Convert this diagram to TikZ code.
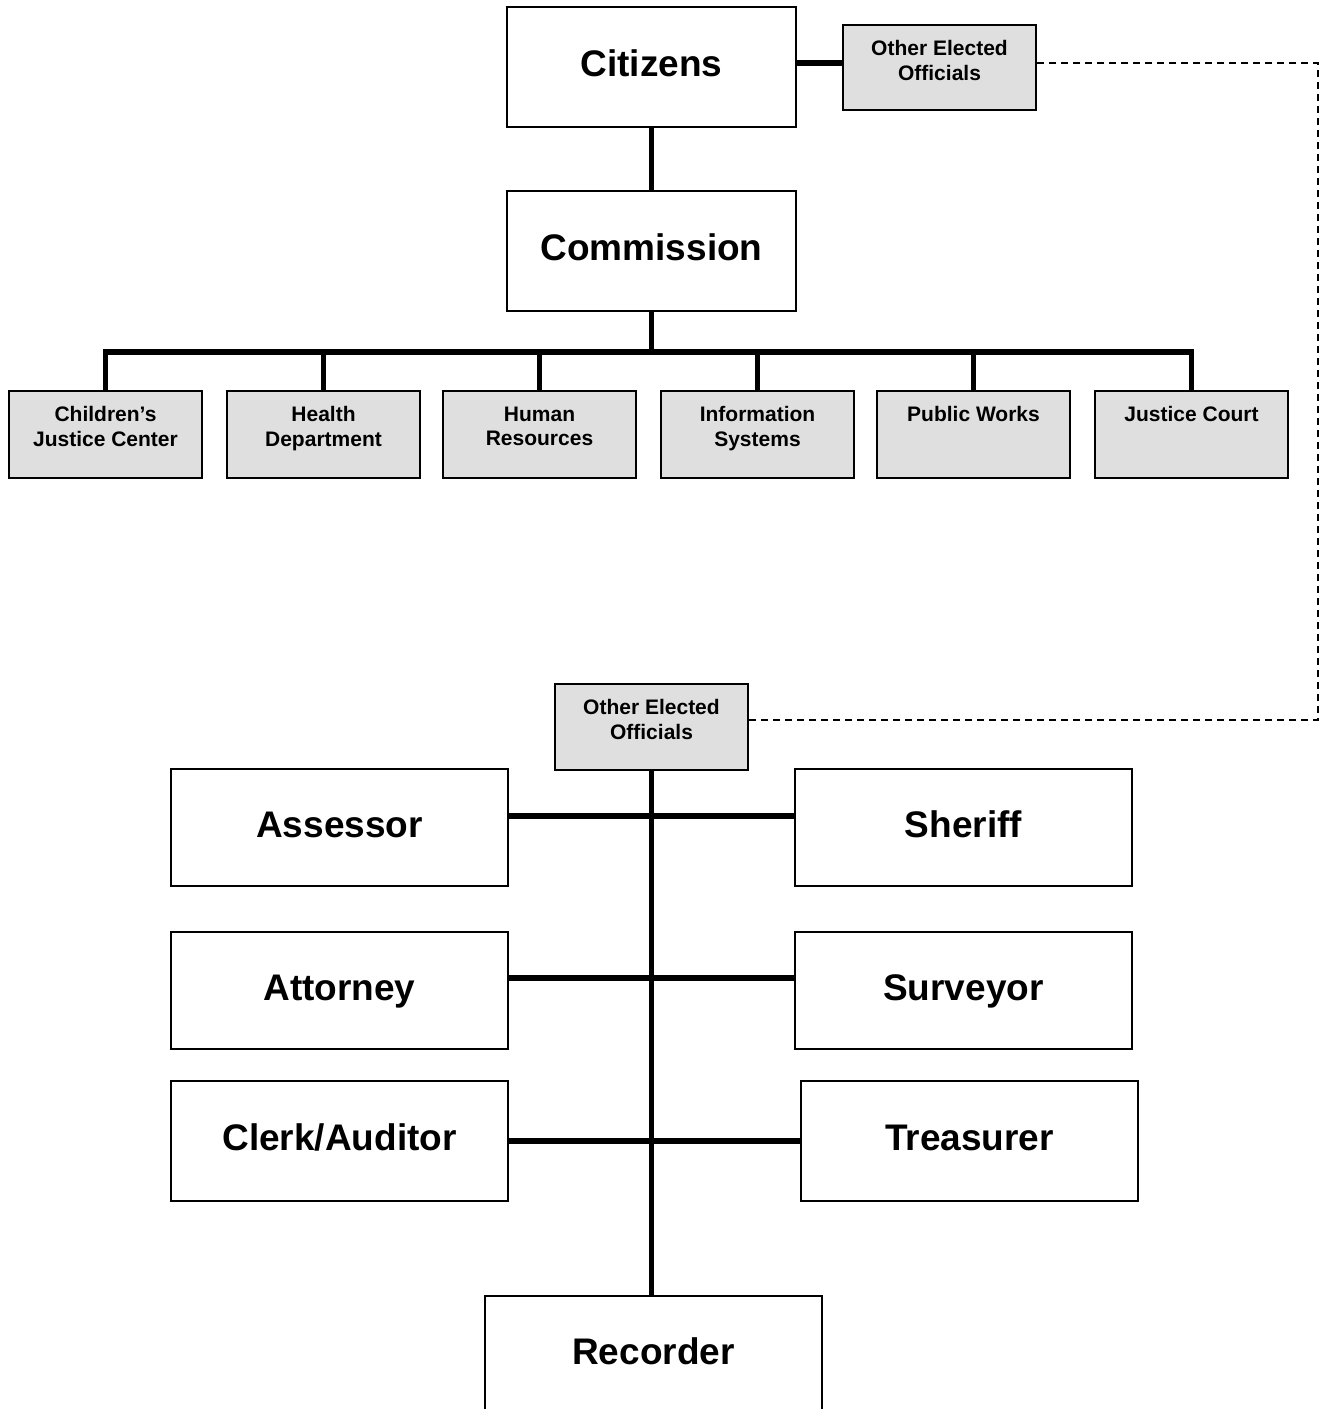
\documentclass[tikz,border=0pt]{standalone}
\usepackage{fontspec}
\setmainfont{Liberation Sans}
\usetikzlibrary{positioning, calc}
\tikzset{
    font=\bfseries,
    % Colors
    boxGray/.style={fill=gray!25},
    % Shapes
    bigbox/.style={rectangle, draw=black, line width=2pt, fill=white,
                   minimum width=337pt, minimum height=117pt, inner sep=0pt,
                   font=\fontsize{37}{44}\selectfont\bfseries, text height=27pt, text depth=8pt},
    topbox/.style={bigbox, minimum width=289pt, minimum height=120pt},
    deptbox/.style={rectangle, draw=black, line width=2pt, boxGray,
                    minimum width=193pt, minimum height=87pt},
    depttext/.style={align=center, inner sep=0pt, font=\fontsize{21}{24.5}\selectfont\bfseries},
    % Lines
    link/.style={line width=5.5pt},
    dashlink/.style={line width=1.8pt, dash pattern=on 7pt off 5pt}
}

\begin{document}
\begin{tikzpicture}[x=1pt, y=-1pt]

\useasboundingbox (0,0) rectangle (1325,1409);

% Top
\node[topbox] (citizens) at (651.5,67) {Citizens};
\node[topbox] (commission) at (651.5,251) {Commission};
\node[deptbox, minimum height=85pt] (electedTop) at (939.5,67.5) {};
\node[depttext, below=16.5pt of electedTop.north] (electedTopText) {Other Elected\\Officials};

% Departments
\foreach \name/\x/\txt in {cjc/105.5/{Children’s\\Justice Center}, hd/323.5/{Health\\Department},
        hr/539.5/{Human\\Resources}, is/757.5/{Information\\Systems},
        pw/973.5/{Public Works}, jc/1191.5/{Justice Court}} {
    \node[deptbox] (\name) at (\x,434.5) {};
    \node[depttext, below=16.5pt of \name.north] (\name-text) {\txt};
}

% Elected officials
\node[deptbox, minimum height=86pt] (electedBot) at (651.5,727) {};
\node[depttext, below=16.5pt of electedBot.north] (electedBotText) {Other Elected\\Officials};
\node[bigbox] (assessor) at (339.5,827.5) {Assessor};
\node[bigbox] (sheriff) at (963.5,827.5) {Sheriff};
\node[bigbox] (attorney) at (339.5,990.5) {Attorney};
\node[bigbox] (surveyor) at (963.5,990.5) {Surveyor};
\node[bigbox, minimum height=120pt] (clerk) at (339.5,1141) {Clerk/Auditor};
\node[bigbox, minimum height=120pt] (treasurer) at (969.5,1141) {Treasurer};
\node[bigbox] (recorder) at (653.5,1354.5) {Recorder};

% Lines
\coordinate (bus) at (651.5,352);
\coordinate (dashTurn) at (1318,720);
\draw[link] ([yshift=4pt]citizens.east) -- ([yshift=4pt]citizens.east -| electedTop.west);
\draw[link] (citizens.south) -- (commission.north);
\draw[link] (commission.south) -- (bus);
\draw[link] (cjc.north) |- (jc.north |- bus) -- (jc.north);
\foreach \name in {hd,hr,is,pw}
    \draw[link] (\name.north) -- (\name.north |- bus);
\draw[dashlink] ([yshift=4.5pt]electedTop.east) -| (dashTurn) -- ([yshift=7pt]electedBot.east);
\draw[line width=4.5pt] (electedBot.south) -- (electedBot.south |- recorder.north);
\draw[link] ([yshift=11.5pt]assessor.east) -- ([yshift=11.5pt]assessor.east -| sheriff.west);
\draw[link] ([yshift=12.5pt]attorney.east) -- ([yshift=12.5pt]attorney.east -| surveyor.west);
\draw[link] (clerk.east) -- (clerk.east -| treasurer.west);

\end{tikzpicture}
\end{document}
